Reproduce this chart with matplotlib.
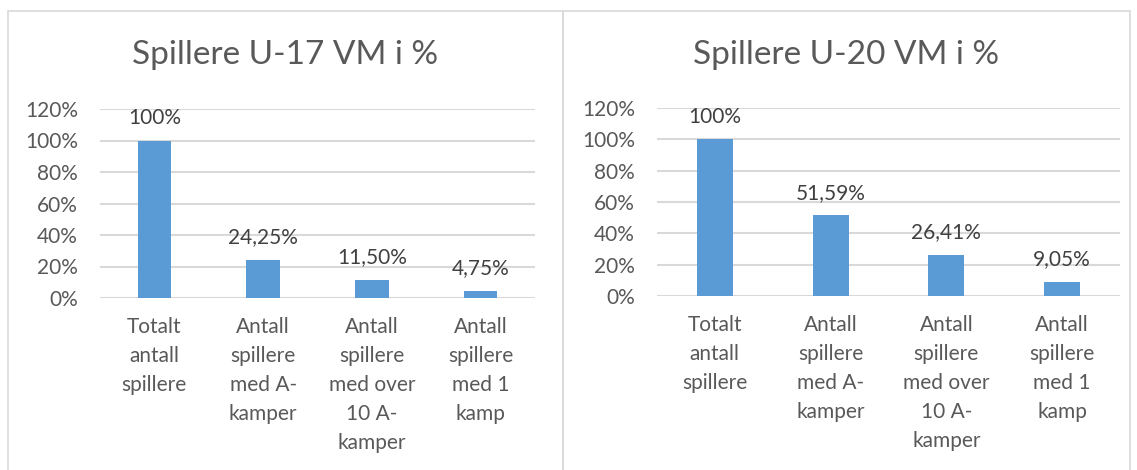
import matplotlib
matplotlib.use("Agg")
import matplotlib.pyplot as plt
from matplotlib.patches import Rectangle
from matplotlib.ticker import FuncFormatter

plt.rcParams['font.family'] = ['Lato', 'DejaVu Sans']

categories = ["Totalt\nantall\nspillere",
              "Antall\nspillere\nmed A-\nkamper",
              "Antall\nspillere\nmed over\n10 A-\nkamper",
              "Antall\nspillere\nmed 1\nkamp"]
u17_values = [100, 24.25, 11.50, 4.75]
u17_labels = ["100%", "24,25%", "11,50%", "4,75%"]
u20_values = [100, 51.59, 26.41, 9.05]
u20_labels = ["100%", "51,59%", "26,41%", "9,05%"]
titles = ["Spillere U-17 VM i %", "Spillere U-20 VM i %"]
yticks = [0, 20, 40, 60, 80, 100, 120]

BAR = "#5B9BD5"
GRID = "#D9D9D9"
TXT = "#595959"
W, H = 1137, 470
FS = 15

fig = plt.figure(figsize=(W/100, H/100), dpi=100)
fig.patch.set_facecolor("white")

# panel borders (pixels)
panels = [(8, 563), (563, 1130)]
for x0, x1 in panels:
    fig.patches.append(Rectangle((x0/W, -0.05), (x1-x0)/W, 1.05 - 11/H,
                                 transform=fig.transFigure, fill=False,
                                 edgecolor=GRID, linewidth=1.2))

axes_px = [(100, 535, 298, 109), (657, 1120, 296, 108)]
data = [(u17_values, u17_labels), (u20_values, u20_labels)]

for i, ((x0, x1, yb, yt), (vals, labs)) in enumerate(zip(axes_px, data)):
    ax = fig.add_axes([x0/W, 1 - yb/H, (x1-x0)/W, (yb-yt)/H])
    xs = range(len(categories))
    bars = ax.bar(xs, vals, width=0.31, color=BAR, zorder=3)
    ax.set_xlim(-0.5, len(categories)-0.5)
    ax.set_ylim(0, 120)
    ax.set_yticks(yticks)
    ax.yaxis.set_major_formatter(FuncFormatter(lambda v, p: f"{int(v)}%"))
    ax.grid(axis='y', color=GRID, linewidth=1.5, zorder=0)
    for s in ax.spines.values():
        s.set_visible(False)
    ax.tick_params(axis='both', length=0, colors=TXT, labelsize=FS)
    ax.tick_params(axis='y', pad=16)
    ax.tick_params(axis='x', pad=14)
    ax.set_xticks(list(xs))
    ax.set_xticklabels(categories, linespacing=1.55, va='top', ha='center')
    for b, lab in zip(bars, labs):
        ax.annotate(lab, (b.get_x() + b.get_width()/2, b.get_height()),
                    xytext=(0, 9), textcoords='offset points',
                    ha='center', va='bottom', fontsize=FS, color="#404040")
    px0, px1 = panels[i]
    fig.text((px0 + px1)/2/W, 1 - 55/H, titles[i], ha='center', va='center',
             fontsize=24, color=TXT)

fig.savefig("out.png", dpi=100, facecolor="white")
